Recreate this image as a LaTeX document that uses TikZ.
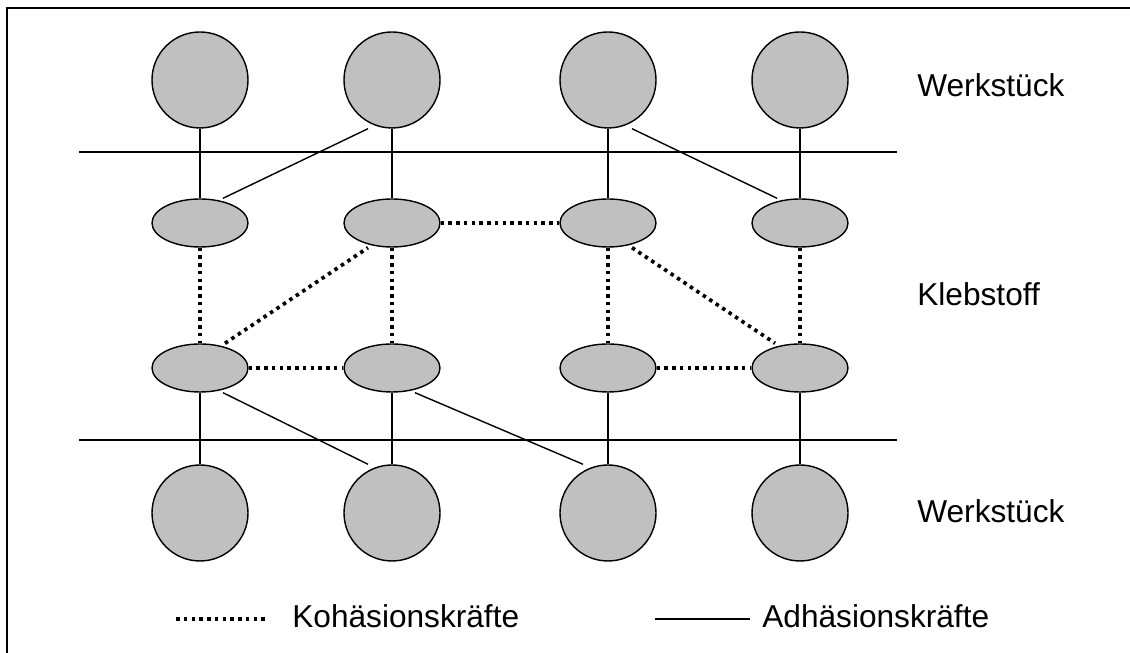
\documentclass[tikz,border=0pt]{standalone}
\usepackage{fontspec}
\setmainfont{Liberation Sans}
\usetikzlibrary{shapes.geometric}
\definecolor{partgray}{RGB}{192,192,192}
\begin{document}
\begin{tikzpicture}[
    atom/.style={circle,draw,fill=partgray,line width=0.8pt,minimum size=1.92cm,inner sep=0pt},
    molecule/.style={ellipse,draw,fill=partgray,line width=0.8pt,minimum width=1.92cm,minimum height=0.96cm,inner sep=0pt},
    adh/.style={line width=0.8pt},
    koh/.style={line width=2.1pt,dash pattern=on 0.07cm off 0.085cm},
    lbl/.style={anchor=base west,inner sep=0pt,font=\fontsize{18}{21}\selectfont}]
    \useasboundingbox (0,0) rectangle (22.6,13.06);
    \draw[line width=1.1pt] (0.14,-1) rectangle (23.6,12.9);
    % boundary lines
    \draw[adh] (1.58,10.02)--(17.94,10.02);
    \draw[adh] (1.58,4.26)--(17.94,4.26);
    % upper part
    \node[atom] (w1) at (4,11.46){};
    \node[atom] (w2) at (7.84,11.46){};
    \node[atom] (w3) at (12.16,11.46){};
    \node[atom] (w4) at (16,11.46){};
    % adhesive
    \node[molecule] (k1) at (4,8.6){};
    \node[molecule] (k2) at (7.84,8.6){};
    \node[molecule] (k3) at (12.16,8.6){};
    \node[molecule] (k4) at (16,8.6){};
    \node[molecule] (k5) at (4,5.7){};
    \node[molecule] (k6) at (7.84,5.7){};
    \node[molecule] (k7) at (12.16,5.7){};
    \node[molecule] (k8) at (16,5.7){};
    % lower part
    \node[atom] (u1) at (4,2.8){};
    \node[atom] (u2) at (7.84,2.8){};
    \node[atom] (u3) at (12.16,2.8){};
    \node[atom] (u4) at (16,2.8){};
    % adhesion
    \draw[adh](w1)--(k1);
    \draw[adh](w2)--(k2);
    \draw[adh](w3)--(k3);
    \draw[adh](w4)--(k4);
    \draw[adh]([xshift=-4.8mm]w2.south)--([xshift=4.6mm]k1.north);
    \draw[adh]([xshift=4.8mm]w3.south)--([xshift=-4.6mm]k4.north);
    \draw[adh](k5)--(u1);
    \draw[adh](k6)--(u2);
    \draw[adh](k7)--(u3);
    \draw[adh](k8)--(u4);
    \draw[adh]([xshift=4.6mm]k5.south)--([xshift=-4.8mm]u2.north);
    \draw[adh]([xshift=4.6mm]k6.south)--([xshift=-5mm]u3.north);
    % cohesion
    \draw[koh](k1)--(k5);
    \draw[koh](k2)--(k6);
    \draw[koh](k3)--(k7);
    \draw[koh](k4)--(k8);
    \draw[koh](k2)--(k3);
    \draw[koh](k5)--(k6);
    \draw[koh](k7)--(k8);
    \draw[koh]([xshift=5mm]k5.north)--([xshift=-4.8mm]k2.south);
    \draw[koh]([xshift=4.8mm]k3.south)--([xshift=-5mm]k8.north);
    % labels
    \node[lbl] (top) at (18.34,11.12){Werkstück};
    \node[lbl] (glue) at (18.34,6.94){Klebstoff};
    \node[lbl] (bottom) at (18.34,2.6){Werkstück};
    % legend
    \coordinate (kohA) at (3.52,0.68);
    \coordinate (kohB) at (5.34,0.68);
    \coordinate (adhA) at (13.1,0.68);
    \coordinate (adhB) at (15.0,0.68);
    \draw[koh](kohA)--(kohB);
    \draw[adh](adhA)--(adhB);
    \node[lbl] (kohtext) at (5.84,0.5){Kohäsionskräfte};
    \node[lbl] (adhtext) at (15.24,0.5){Adhäsionskräfte};
\end{tikzpicture}
\end{document}
